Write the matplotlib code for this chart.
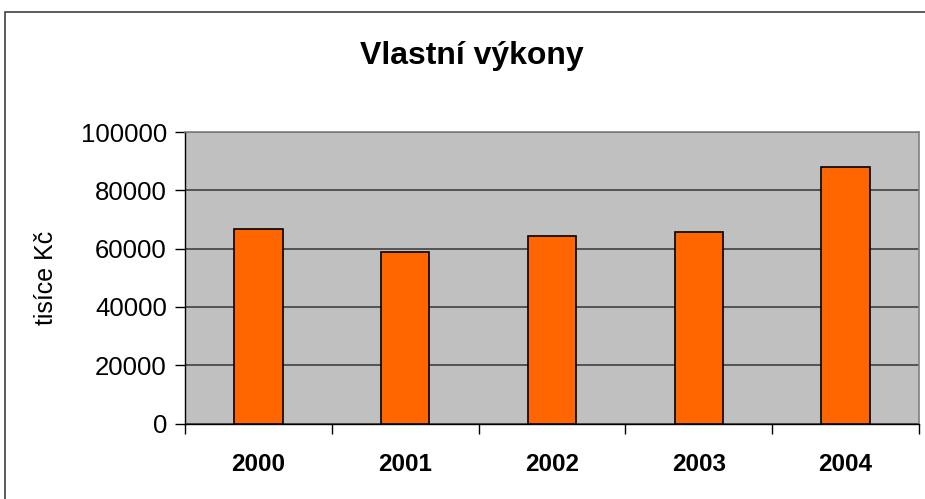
import matplotlib
matplotlib.use("Agg")
import matplotlib.pyplot as plt
from matplotlib.patches import Rectangle
import numpy as np

years = ["2000", "2001", "2002", "2003", "2004"]
values = [66600, 58800, 64300, 65700, 87900]
yticks = [0, 20000, 40000, 60000, 80000, 100000]
title = "Vlastní výkony"
ylabel = "tisíce Kč"

plt.rcParams['font.family'] = ['Liberation Sans', 'DejaVu Sans']

fig = plt.figure(figsize=(9.25, 4.99), dpi=100)
fig.patch.set_facecolor("white")
# outer chart frame
fig.patches.append(Rectangle((5/925, -0.1), 1.2, (499-12)/499 + 0.1,
                             transform=fig.transFigure, fill=False,
                             edgecolor="#404040", linewidth=1.2))

ax = fig.add_axes([185/925, (499-423.5)/499, (919-185)/925, (423.5-132)/499])
ax.set_facecolor("#C0C0C0")
x = np.arange(len(years))
ax.bar(x, values, width=0.33, color="#FF6600", edgecolor="black", linewidth=1.2, zorder=3)
ax.set_xlim(-0.5, len(years) - 0.5)
ax.set_ylim(0, 100000)
ax.set_yticks(yticks)
ax.set_yticklabels([str(v) for v in yticks], fontsize=18.5)
ax.yaxis.grid(True, color="#404040", linewidth=1.2, zorder=1)
ax.set_axisbelow(True)
ax.tick_params(axis='y', length=7, width=1, pad=6, color="black")
ax.set_xticks(x)
ax.set_xticklabels(years, fontsize=17.5, fontweight="bold")
ax.tick_params(axis='x', which='major', length=0, pad=21)
ax.set_xticks(np.arange(-0.5, len(years)), minor=True)
ax.tick_params(axis='x', which='minor', length=7, width=1, color="black")
for s in ["top", "right"]:
    ax.spines[s].set_color("#808080")
    ax.spines[s].set_linewidth(1.2)
for s in ["left", "bottom"]:
    ax.spines[s].set_color("black")
    ax.spines[s].set_linewidth(1)
ax.set_ylabel(ylabel, fontsize=18, labelpad=16)
fig.text(472/925, 1 - 56/499, title, fontsize=23, fontweight="bold",
         ha="center", va="center")
fig.savefig("out.png", dpi=100)
